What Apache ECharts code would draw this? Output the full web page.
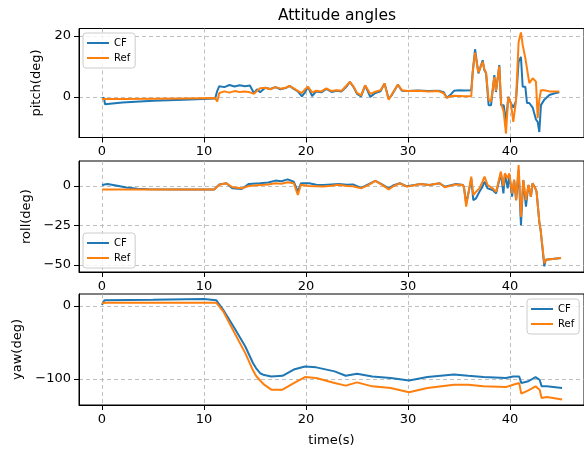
<!DOCTYPE html>
<html>
<head>
    <meta charset="utf-8">
    <title>Attitude angles</title>
    <script src="https://cdn.jsdelivr.net/npm/echarts@6/dist/echarts.min.js"></script>
    <style>
        html, body { margin: 0; padding: 0; background: #fff; }
        #main { width: 584px; height: 455px; }
    </style>
</head>
<body>
    <div id="main"></div>
    <script type="text/javascript">
        // values
        var timeTicks = [0, 10, 20, 30, 40];

        var pitchTime = [0,0.2,0.3,2,5,8,11.1,11.3,11.5,12,
            12.5,13,13.5,14,14.5,14.9,15.2,15.5,16,16.5,
            17,17.5,18,18.4,18.8,19.2,19.6,19.9,20.2,20.6,
            21,21.5,22,22.5,23,23.5,24,24.3,24.7,25,
            25.4,25.8,26.3,26.8,27.3,27.7,28.1,28.4,29,29.4,
            30,31,32,33,33.5,33.8,34.2,34.5,35,35.5,
            36.2,36.34,36.57,36.9,37.32,37.48,37.65,37.9,38.14,38.46,
            38.62,38.95,39.12,39.38,39.6,39.83,40.09,40.32,40.58,40.84,
            41.07,41.24,41.5,41.66,41.89,42.22,42.54,42.71,42.87,43.03,
            43.36,43.85,44.3,44.83];
        var pitchCF = [-0.5,-0.3,-2.4,-1.8,-1.3,-0.9,-0.5,2.0,3.5,3.2,
            3.9,3.4,3.8,3.5,3.7,1.2,2.5,1.5,3.0,2.6,
            3.2,2.5,2.9,3.6,2.6,1.8,0.2,1.5,3.3,0.3,
            1.8,1.5,2.6,1.6,2.0,1.8,3.5,4.9,3.0,1.0,
            0.2,3.8,0.0,1.3,1.8,4.4,-0.6,0.5,4.0,2.0,
            1.9,2.1,1.9,2.0,1.5,-0.3,0.8,2.0,2.2,2.1,
            2.2,8,15.6,7.7,12.0,8.8,7.7,-2.7,-2.7,7.1,
            1.6,10.4,-2.7,-2.7,-8.2,0,-2.1,-3.5,-1.4,11.5,
            13.1,3.3,3.3,-2.0,-2.0,-3.5,-7.4,-8.2,-11.5,-2.7,
            -0.9,0.6,1.1,1.5];
        var pitchRef = [-0.7,-0.7,-0.7,-0.7,-0.6,-0.5,-0.4,-1.5,1.3,1.8,
            1.4,1.9,1.6,1.8,1.5,1.0,2.0,2.8,3.0,2.5,
            3.2,2.7,3.0,3.6,2.8,2.0,1.2,2.5,3.3,1.5,
            2.0,1.8,2.8,1.9,2.2,2.0,3.8,4.9,3.2,1.3,
            0.5,3.8,1.0,1.7,2.2,4.4,-0.9,0.8,4.0,2.2,
            1.9,2.0,1.8,1.9,1.2,-0.3,0.2,0.4,0.3,0.2,
            0.2,8,14.5,8.0,11.5,9.0,8.0,-1.0,-1.5,6.5,
            2.0,10.0,-2.0,-4.9,-12.0,0,-2.1,-8.2,-1.4,18.0,
            21.1,17.0,12.7,12.7,4.5,6.1,5.0,-7.0,-1.0,2.2,
            2.2,1.8,1.8,1.8];

        var rollTime = [0,0.55,1.5,2.4,3.5,4.6,8,11,11.5,12.2,
            12.8,13.7,14.4,15.5,16.3,17,17.6,18.2,18.8,19.2,
            19.5,20.3,21,21.7,22.5,23.2,24,24.6,25.4,26.1,
            26.8,27.5,28.1,28.6,29.2,29.9,30.5,31.2,32.1,33.1,
            33.6,34.7,35.4,35.5,35.7,35.95,36.2,36.4,36.67,37.0,
            37.3,37.5,37.8,38.3,38.63,38.95,39.1,39.35,39.5,39.77,
            39.93,40.2,40.4,40.6,40.84,41.07,41.3,41.56,41.8,42.05,
            42.2,42.48,42.6,42.87,43.0,43.36,43.5,45.0];
        var rollCF = [0.6,1.3,0.2,-1.0,-1.8,-2.1,-2.2,-2.2,1.0,1.7,
            -1.5,-1.9,1.3,1.7,2.2,3.4,3.0,4.2,2.7,-3.6,
            1.7,1.7,0.8,0.6,1.0,1.3,0.8,1.0,-1.2,1.0,
            3.2,0.8,-1.5,0.5,1.7,-0.2,0.5,1.3,0.6,1.7,
            -0.4,1.2,0.6,-1.5,-11,-3.6,4.5,-8.9,-7.8,-3.6,
            -0.4,2.8,-1.5,-2.5,-4.7,3.8,8,-4.7,7.5,-1.5,
            7,-6.8,3.8,-8.9,10,-24.8,3.8,-13,0.6,-6.8,
            1.7,-1.5,-3.6,-22.7,-28,-50.8,-46.6,-45.5];
        var rollRef = [-2.2,-2.2,-2.2,-2.2,-2.2,-2.2,-2.2,-2.2,0.8,1.7,
            -0.8,-1.5,0,0.6,1.0,1.7,1.4,2.3,1.7,-5.7,
            0.8,0,-0.2,-0.4,0.2,0.8,0,-0.2,-1.5,0.5,
            3.2,0.5,-2.1,0,1.7,-0.4,0.3,1.3,0.6,1.7,
            -0.8,1.0,0.6,-1.5,-13,-3.6,5.9,-5.7,-3.6,-1.5,
            2.8,5.9,0.6,-1.5,-3.6,4.9,9.1,0.0,8,4.9,
            8,-4.7,3.8,-8.9,13.3,-19.5,3.8,-8.9,0.6,-6.8,
            1.7,-1.5,-3.6,-22.7,-28,-49,-46.6,-45.5];

        var yawTime = [0,0.25,5,10,11.2,11.9,13,14.05,14.8,15.1,
            15.5,15.9,16.6,17.7,18.8,19.9,21,22.8,23.9,25,
            26.5,28.3,30.1,31.9,34.5,35.9,37.4,39.6,40.3,40.9,
            41.1,41.8,42.5,42.9,43.1,43.6,45.1];
        var yawCF = [1.4,8,8.5,9.5,8,-5.5,-30.5,-55.5,-78,-85,
            -92,-94.5,-96.4,-95.5,-87,-82.7,-84,-89.5,-95.5,-92.7,
            -96.4,-98.6,-102,-97.3,-93.6,-95.5,-97.3,-98.6,-96.4,-96.4,
            -105.5,-103,-97.3,-101,-110,-110,-112.3];
        var yawRef = [3.6,4.5,4.5,4.5,4.5,-7.7,-37,-64.5,-88,-95.5,
            -102,-107.7,-114.5,-114.5,-105.5,-97.3,-98.6,-105.5,-109,-104.5,
            -110,-112.3,-118,-112.3,-107.7,-107.7,-110,-111,-107.7,-105.5,
            -120,-115.5,-110,-114.5,-126,-124.5,-128];

        var pitchTicks = [0, 20];
        var rollTicks = [-50, -25, 0];
        var yawTicks = [-100, 0];

        function pairs(t, v) {
            var out = [];
            for (var i = 0; i < t.length; i++) out.push([t[i], v[i]]);
            return out;
        }

        var FONT = 'DejaVu Sans';
        var minus = function (v) { return String(v).replace('-', '\u2212'); };
        var gridLine = { show: true, lineStyle: { color: '#b0b0b0', type: [4, 3], width: 0.8 } };

        var grids = [
            { left: 79, width: 506, top: 28.5, height: 109 },
            { left: 79, width: 506, top: 161, height: 111 },
            { left: 79, width: 506, top: 294, height: 111 }
        ];
        grids.forEach(function (g) { g.show = true; g.borderColor = '#000'; g.borderWidth = 1; });

        function xAxis(i, name) {
            return {
                type: 'value', gridIndex: i, min: -2.25, max: 47.25,
                name: name || '', nameLocation: 'middle', nameGap: 29,
                nameTextStyle: { fontFamily: FONT, fontSize: 13, color: '#000' },
                axisLine: { show: true, onZero: false, lineStyle: { color: '#000' } },
                axisTick: { show: true, length: 5, customValues: timeTicks, lineStyle: { color: '#000' } },
                axisLabel: { customValues: timeTicks, fontFamily: FONT, fontSize: 13, color: '#000', margin: 8 },
                splitLine: gridLine
            };
        }
        function yAxis(i, name, min, max, ticks, gap) {
            return {
                type: 'value', gridIndex: i, min: min, max: max,
                name: name, nameLocation: 'middle', nameGap: gap,
                nameTextStyle: { fontFamily: FONT, fontSize: 13, color: '#000' },
                axisLine: { show: true, onZero: false, lineStyle: { color: '#000' } },
                axisTick: { show: true, length: 5, customValues: ticks, lineStyle: { color: '#000' } },
                axisLabel: { customValues: ticks, fontFamily: FONT, fontSize: 13, color: '#000', margin: 8, formatter: minus },
                splitLine: gridLine
            };
        }
        function legend(pos) {
            return Object.assign({
                data: ['CF', 'Ref'], orient: 'vertical', icon: 'rect',
                itemWidth: 22, itemHeight: 2, itemGap: 3,
                padding: [4, 5, 4, 4], borderColor: '#cccccc', borderWidth: 1, borderRadius: 3,
                backgroundColor: 'rgba(255,255,255,0.8)',
                textStyle: { fontFamily: FONT, fontSize: 10, color: '#000', lineHeight: 12 },
                selectedMode: false
            }, pos);
        }
        function line(name, color, i, t, v) {
            return {
                name: name, type: 'line', xAxisIndex: i, yAxisIndex: i,
                data: pairs(t, v), showSymbol: false, symbol: 'none',
                lineStyle: { color: color, width: 2 }, itemStyle: { color: color }
            };
        }

        var myChart = echarts.init(document.getElementById('main'));
        myChart.setOption({
            animation: false,
            title: {
                text: 'Attitude angles', left: 332, top: 3, textAlign: 'center',
                textStyle: { fontFamily: FONT, fontSize: 15.5, fontWeight: 'normal', color: '#000' }
            },
            legend: [
                legend({ left: 83, top: 33 }),
                legend({ left: 83, top: 233 }),
                legend({ left: 527, top: 299 })
            ],
            grid: grids,
            xAxis: [xAxis(0), xAxis(1), xAxis(2, 'time(s)')],
            yAxis: [
                yAxis(0, 'pitch(deg)', -13.3, 22.4, pitchTicks, 34),
                yAxis(1, 'roll(deg)', -54.4, 15.8, rollTicks, 45),
                yAxis(2, 'yaw(deg)', -135.5, 16.4, yawTicks, 53)
            ],
            series: [
                line('CF', '#1f77b4', 0, pitchTime, pitchCF),
                line('Ref', '#ff7f0e', 0, pitchTime, pitchRef),
                line('CF', '#1f77b4', 1, rollTime, rollCF),
                line('Ref', '#ff7f0e', 1, rollTime, rollRef),
                line('CF', '#1f77b4', 2, yawTime, yawCF),
                line('Ref', '#ff7f0e', 2, yawTime, yawRef)
            ]
        });
    </script>
</body>
</html>
